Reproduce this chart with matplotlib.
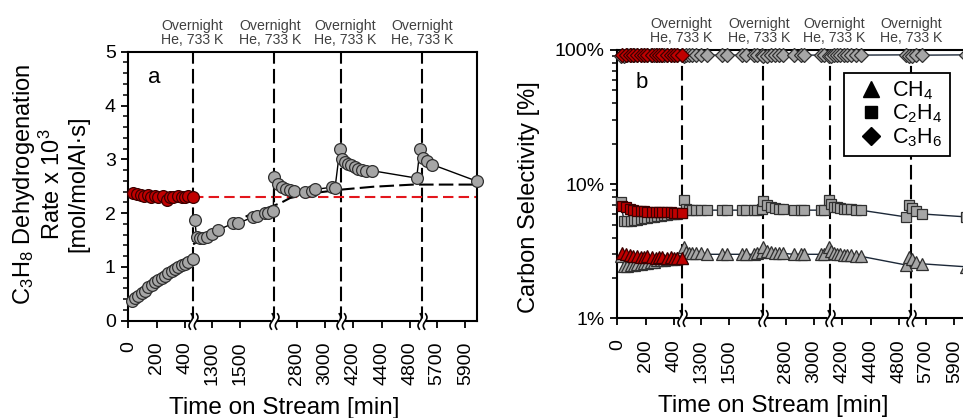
import numpy as np
import matplotlib
matplotlib.use("Agg")
import matplotlib.pyplot as plt
import matplotlib.transforms as mtrans
from matplotlib.lines import Line2D
from matplotlib.path import Path
from matplotlib.ticker import FixedLocator, MultipleLocator, FuncFormatter, LogLocator, NullFormatter

plt.rcParams['font.family'] = ['Liberation Sans', 'DejaVu Sans']
plt.rcParams['mathtext.fontset'] = 'custom'
plt.rcParams['mathtext.rm'] = 'Liberation Sans'
plt.rcParams['mathtext.it'] = 'Liberation Sans:italic'
plt.rcParams['mathtext.default'] = 'regular'

# broken time axis: x is measured in tick slots, each slot carries one label
tick_pos = [0, 1, 2, 2.95, 3.95, 5.95, 6.95, 7.95, 8.95, 9.95, 10.9, 11.9]
tick_labels = ['0', '200', '400', '1300', '1500', '2800', '3000',
               '4200', '4400', '4800', '5700', '5900']
breaks = [2.29, 5.14, 7.51, 10.38]
note_x = [2.27, 5.01, 7.67, 10.38]

# segment 1 (fresh catalyst, grey) and reference run (red)
x_seg1 = [0.12, 0.24, 0.35, 0.47, 0.59, 0.71, 0.83, 0.95, 1.06, 1.18,
          1.30, 1.41, 1.53, 1.65, 1.76, 1.88, 2.00, 2.12, 2.27]
x_red = [0.18, 0.32, 0.44, 0.55, 0.71, 0.82, 0.94, 1.06, 1.21, 1.36,
         1.47, 1.59, 1.74, 1.88, 2.00, 2.12, 2.27]
# after each overnight He treatment
x_seg2 = [2.35, 2.41, 2.52, 2.63, 2.77, 2.94, 3.18, 3.71, 3.88, 4.41, 4.53, 4.83, 4.94, 5.12]
x_seg3 = [5.14, 5.29, 5.41, 5.57, 5.71, 5.85, 6.23, 6.47, 6.59, 7.18, 7.30]
x_seg4 = [7.47, 7.56, 7.65, 7.76, 7.88, 8.00, 8.11, 8.24, 8.41, 8.59, 10.18]
x_seg5 = [10.30, 10.41, 10.53, 10.74, 12.32]

# panel a: C3H8 dehydrogenation rate x 10^3
rate_seg1 = [0.36, 0.42, 0.46, 0.51, 0.56, 0.62, 0.67, 0.72, 0.76, 0.80,
             0.84, 0.88, 0.92, 0.96, 0.99, 1.03, 1.06, 1.10, 1.14]
rate_red = [2.38, 2.36, 2.34, 2.32, 2.33, 2.30, 2.32, 2.30, 2.32, 2.24,
            2.29, 2.30, 2.32, 2.29, 2.30, 2.32, 2.29]
rate_seg2 = [1.87, 1.55, 1.53, 1.54, 1.56, 1.62, 1.69, 1.81, 1.81, 1.93, 1.95, 2.00, 2.01, 2.04]
rate_seg3 = [2.68, 2.55, 2.49, 2.45, 2.43, 2.42, 2.40, 2.42, 2.44, 2.48, 2.47]
rate_seg4 = [3.19, 3.01, 2.95, 2.92, 2.89, 2.86, 2.82, 2.80, 2.79, 2.79, 2.65]
rate_seg5 = [3.19, 3.02, 2.96, 2.90, 2.59]
red_level = 2.29
trend_x = [2.29, 3.5, 4.5, 5.35, 5.71, 6.5, 7.59, 8.65, 10.06, 12.3]
trend_y = [1.42, 1.78, 2.02, 2.18, 2.28, 2.37, 2.44, 2.49, 2.53, 2.53]

# panel b: carbon selectivity [%]
ch4_seg1 = [2.9, 2.45, 2.45, 2.5, 2.5, 2.55, 2.55, 2.6, 2.6, 2.65,
            2.65, 2.7, 2.7, 2.7, 2.75, 2.75, 2.75, 2.8, 2.8]
ch4_red = [3.05, 3.0, 2.95, 2.9, 2.9, 2.85, 2.85, 2.9, 2.85, 2.8,
           2.85, 2.85, 2.8, 2.85, 2.8, 2.8, 2.8]
ch4_seg2 = [3.4, 3.1, 3.05, 3.05, 3.05, 3.05, 3.0, 3.0, 3.0, 3.0, 3.0, 3.0, 3.05, 3.1]
ch4_seg3 = [3.4, 3.15, 3.1, 3.05, 3.05, 3.05, 3.0, 3.0, 3.0, 3.0, 3.0]
ch4_seg4 = [3.4, 3.15, 3.05, 3.0, 3.0, 2.95, 2.95, 2.95, 2.9, 2.9, 2.5]
ch4_seg5 = [2.85, 2.75, 2.65, 2.55, 2.42]

c2h4_seg1 = [7.3, 5.3, 5.3, 5.35, 5.4, 5.45, 5.5, 5.55, 5.6, 5.65,
             5.7, 5.75, 5.8, 5.85, 5.9, 5.95, 6.0, 6.0, 6.05]
c2h4_red = [6.9, 6.7, 6.5, 6.4, 6.35, 6.3, 6.3, 6.25, 6.25, 6.2,
            6.2, 6.2, 6.15, 6.15, 6.1, 6.1, 6.1]
c2h4_seg2 = [7.6, 6.5, 6.4, 6.4, 6.4, 6.4, 6.4, 6.4, 6.4, 6.4, 6.4, 6.4, 6.45, 6.5]
c2h4_seg3 = [7.5, 7.0, 6.7, 6.6, 6.5, 6.5, 6.45, 6.4, 6.4, 6.4, 6.4]
c2h4_seg4 = [7.6, 7.1, 6.8, 6.7, 6.6, 6.55, 6.5, 6.5, 6.45, 6.4, 5.7]
c2h4_seg5 = [7.0, 6.6, 6.3, 6.0, 5.7]

c3h6_seg1 = [90.0, 90.5, 91.0, 91.0, 91.2, 91.3, 91.4, 91.5, 91.5, 91.5,
             91.6, 91.6, 91.6, 91.6, 91.7, 91.7, 91.7, 91.7, 91.7]
c3h6_red = [91.0, 91.5, 91.8, 91.5, 91.8, 92.0, 91.8, 92.0, 91.8, 92.0,
            92.0, 92.0, 91.8, 92.0, 92.0, 92.0, 92.0]
c3h6_seg2 = [89.5, 91.0, 91.3, 91.4, 91.5, 91.5, 91.6, 91.6, 91.6, 91.6, 91.6, 91.6, 91.5, 91.5]
c3h6_seg3 = [89.5, 90.8, 91.2, 91.4, 91.5, 91.5, 91.6, 91.6, 91.6, 91.6, 91.6]
c3h6_seg4 = [89.5, 90.8, 91.2, 91.4, 91.5, 91.5, 91.6, 91.6, 91.6, 91.6, 92.0]
c3h6_seg5 = [90.0, 90.8, 91.2, 91.5, 92.0]

GREY = '#a6a6a6'
GREY_EDGE = '#303030'
RED = '#c00000'
RED_EDGE = '#3c0000'
NOTE = '#404040'
XMAX = 12.3


def s_break_marker():
    t = np.linspace(-1, 1, 15)
    stroke = np.column_stack([0.22 * np.sin(np.pi * t), t])
    verts = np.vstack([stroke + [-0.32, 0], stroke + [0.32, 0]])
    codes = ([Path.MOVETO] + [Path.LINETO] * 14) * 2
    return Path(verts, codes)


def style_axis(ax):
    ax.set_xlim(0, XMAX)
    for sp in ax.spines.values():
        sp.set_linewidth(1.5)
    ax.xaxis.set_major_locator(FixedLocator(tick_pos))
    ax.set_xticklabels(tick_labels, rotation=90)
    ax.tick_params(axis='x', which='major', direction='out', length=5, width=1.3,
                   pad=10, labelsize=14)
    ax.tick_params(axis='y', which='major', direction='out', length=5, width=1.3,
                   pad=4, labelsize=14)
    ax.tick_params(axis='y', which='minor', direction='out', length=3.5, width=1.1)
    ax.set_xlabel('Time on Stream [min]', fontsize=17.5)
    ax.xaxis.set_label_coords(0.447, -0.285)

    trans = mtrans.blended_transform_factory(ax.transData, ax.transAxes)
    brk = s_break_marker()
    for xb in breaks:
        ax.axvline(xb, color='k', lw=1.5, dashes=(7, 2.5), zorder=1)
        ax.plot([xb], [0], transform=trans, ls='none', marker='s', ms=4,
                mfc='white', mec='none', clip_on=False, zorder=6)
        ax.plot([xb], [0], transform=trans, ls='none', marker=brk, ms=12,
                mfc='none', mec='k', mew=1.2, clip_on=False, zorder=7)
    for xn in note_x:
        ax.text(xn, 1.017, 'Overnight\nHe, 733 K', transform=trans, ha='center',
                va='bottom', fontsize=10.2, color=NOTE, linespacing=1.05)


fig = plt.figure(figsize=(9.63, 4.18), dpi=100)
ax_a = fig.add_axes([0.1332, 0.2328, 0.3618, 0.6435])
ax_b = fig.add_axes([0.6410, 0.2385, 0.3618, 0.6419])

# ---- panel a ----
style_axis(ax_a)
ax_a.set_ylim(0, 5)
ax_a.yaxis.set_major_locator(MultipleLocator(1))
ax_a.yaxis.set_minor_locator(MultipleLocator(0.2))

x_after = x_seg2 + x_seg3 + x_seg4 + x_seg5
rate_after = rate_seg2 + rate_seg3 + rate_seg4 + rate_seg5

ax_a.plot([x_red[-1], XMAX], [red_level, red_level], color='#e3161c', lw=1.5,
          dashes=(5, 2.5), zorder=2)
ax_a.plot(trend_x, trend_y, color='k', lw=1.5, dashes=(7, 2.5), zorder=2)
circ = dict(marker='o', ms=8.5, mew=0.9, clip_on=False)
ax_a.plot(x_seg1, rate_seg1, color='k', lw=1, mfc=GREY, mec=GREY_EDGE, zorder=4, **circ)
ax_a.plot(x_after, rate_after, color='k', lw=1, mfc=GREY, mec=GREY_EDGE, zorder=4, **circ)
ax_a.plot(x_red, rate_red, ls='none', mfc=RED, mec=RED_EDGE, zorder=5, **circ)
ax_a.text(0.074, 0.884, 'a', transform=ax_a.transAxes, ha='center', va='baseline', fontsize=16)

fig.text(50 / 963, 1 - 184 / 418,
         'C$_3$H$_8$ Dehydrogenation\nRate x 10$^3$\n[mol/molAl·s]',
         rotation=90, ha='center', va='center', multialignment='center',
         fontsize=17, linespacing=1.15)

# ---- panel b ----
style_axis(ax_b)
ax_b.set_yscale('log')
ax_b.set_ylim(1, 100)
ax_b.yaxis.set_major_locator(FixedLocator([1, 10, 100]))
ax_b.yaxis.set_major_formatter(FuncFormatter(lambda v, p: f'{v:g}%'))
ax_b.yaxis.set_minor_locator(LogLocator(base=10, subs=np.arange(2, 10)))
ax_b.yaxis.set_minor_formatter(NullFormatter())

series_b = [('^', 8.5, ch4_seg1, ch4_red, ch4_seg2 + ch4_seg3 + ch4_seg4 + ch4_seg5),
            ('s', 7.8, c2h4_seg1, c2h4_red, c2h4_seg2 + c2h4_seg3 + c2h4_seg4 + c2h4_seg5),
            ('D', 7.0, c3h6_seg1, c3h6_red, c3h6_seg2 + c3h6_seg3 + c3h6_seg4 + c3h6_seg5)]
for mk, ms, seg1, red, after in series_b:
    kw = dict(marker=mk, ms=ms, mew=0.9, clip_on=False)
    ax_b.plot(x_seg1, seg1, color='#1c2838', lw=1, mfc=GREY, mec=GREY_EDGE, zorder=4, **kw)
    ax_b.plot(x_after, after, color='#1c2838', lw=1, mfc=GREY, mec=GREY_EDGE, zorder=4, **kw)
    ax_b.plot(x_red, red, ls='none', mfc=RED, mec=RED_EDGE, zorder=5, **kw)
ax_b.text(0.069, 0.858, 'b', transform=ax_b.transAxes, ha='center', va='baseline', fontsize=16)

handles = [Line2D([], [], ls='none', marker='^', ms=12, color='k'),
           Line2D([], [], ls='none', marker='s', ms=8, color='k'),
           Line2D([], [], ls='none', marker='D', ms=9, color='k')]
leg = ax_b.legend(handles, ['CH$_4$', 'C$_2$H$_4$', 'C$_3$H$_6$'], loc='upper left',
                  bbox_to_anchor=(0.6495, 0.9154), borderaxespad=0, fancybox=False,
                  edgecolor='k', framealpha=1, fontsize=15.5, handlelength=1.9,
                  handletextpad=0.05, labelspacing=0.03, borderpad=0.32)
leg.get_frame().set_linewidth(1.3)
leg.set_zorder(8)

fig.text(529 / 963, 1 - 197.5 / 418, 'Carbon Selectivity [%]', rotation=90,
         ha='center', va='center', fontsize=17)

fig.savefig('out.png', dpi=100)
